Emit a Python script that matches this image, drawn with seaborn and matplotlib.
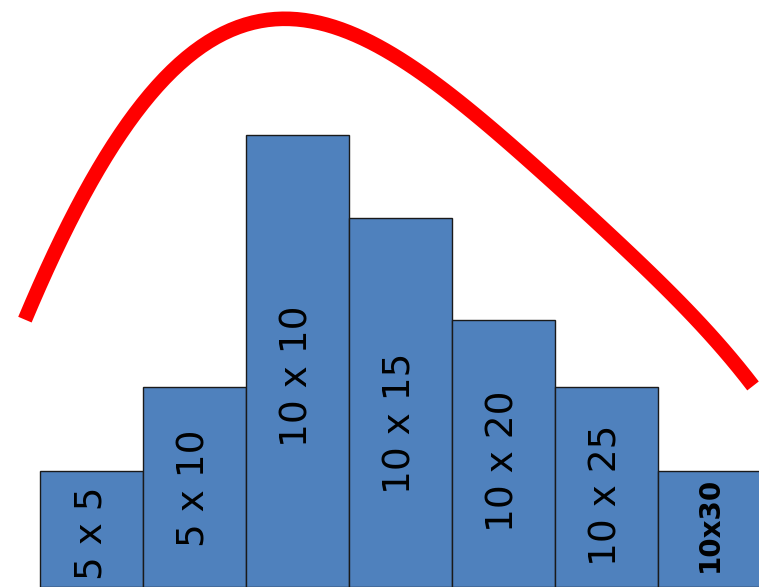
import matplotlib
matplotlib.use("Agg")
import matplotlib.pyplot as plt
import seaborn as sns
import pandas as pd

# --- data ---
categories = ["5 x 5", "5 x 10", "10 x 10", "10 x 15", "10 x 20", "10 x 25", "10x30"]
counts = [1.16, 2.00, 4.52, 3.69, 2.67, 2.00, 1.16]

curve_x = [-0.646, -0.374, -0.092, 0.180, 0.374, 0.733, 1.053, 1.374, 1.801,
           2.189, 2.675, 2.995, 3.451, 4.092, 4.675, 5.199, 5.519, 5.840, 6.422]
curve_y = [2.70, 3.27, 3.87, 4.37, 4.70, 5.12, 5.39, 5.56, 5.70,
           5.64, 5.45, 5.30, 4.94, 4.37, 3.91, 3.37, 3.03, 2.69, 2.02]

# --- layout (not data) ---
label_y = [0.54, 0.99, 2.11, 1.64, 1.26, 0.92, 0.63]

sns.set_theme(style="white")
plt.rcParams['font.family'] = ['DejaVu Sans']

fig = plt.figure(figsize=(7.59, 5.87), dpi=100)
ax = fig.add_axes([0, 0, 1, 1])

df = pd.DataFrame({"cat": categories, "val": counts})
sns.barplot(data=df, x="cat", y="val", color="#4F81BD", saturation=1,
            width=1.0, edgecolor="#1a1a1a", linewidth=1.0, ax=ax)

curve = pd.DataFrame({"x": curve_x, "y": curve_y})
sns.regplot(data=curve, x="x", y="y", order=5, ci=None, scatter=False,
            truncate=True, color="#FF0000", ax=ax,
            line_kws=dict(linewidth=10.5, solid_capstyle="butt", color="#FF0000"))

for i, (lab, ly) in enumerate(zip(categories, label_y)):
    bold = (lab == "10x30")
    ax.text(i, ly, lab, rotation=90, ha="center", va="center",
            fontsize=20 if bold else 27, fontweight="bold" if bold else "normal",
            color="black")

ax.set_xlim(-0.888, 6.48)
ax.set_ylim(0, 5.87)
ax.set_axis_off()

fig.savefig("out.png", dpi=100)
